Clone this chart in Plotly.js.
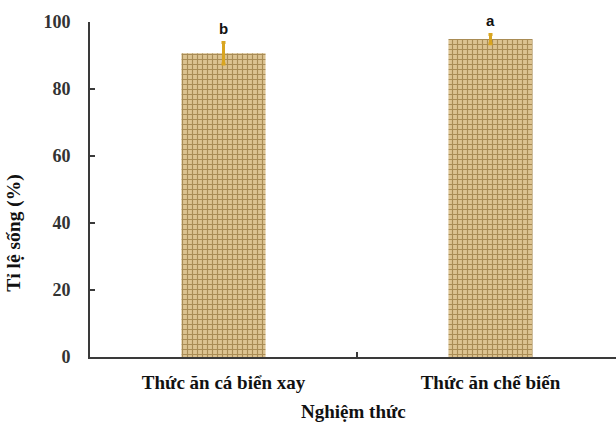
<!DOCTYPE html>
<html>
<head>
<meta charset="utf-8">
<script src="https://cdn.plot.ly/plotly-3.0.1.min.js"></script>
<style>html,body{margin:0;padding:0;background:#fff;}#chart{width:616px;height:424px;}</style>
</head>
<body>
<div id="chart"></div>
<script>
var categories = ["Thức ăn cá biển xay", "Thức ăn chế biến"];
var survival = [90.7, 94.9];
var errors = [3.2, 1.4];
var letters = ["b", "a"];
var yTicks = [0, 20, 40, 60, 80, 100];
var yTitle = "Tỉ lệ sống (%)";
var xTitle = "Nghiệm thức";

var trace = {
  type: "bar",
  x: categories,
  y: survival,
  width: 0.315,
  marker: {
    color: "#d3b87f",
    line: {width: 0},
    pattern: {shape: "+", fgcolor: "#a98c55", bgcolor: "#dcc391", size: 5, solidity: 0.4}
  },
  error_y: {type: "data", array: errors, visible: true, color: "#d9a520", thickness: 3, width: 2},
  hoverinfo: "none"
};

var serif = "Liberation Serif, Times New Roman, serif";

var annotations = categories.map(function (c, i) {
  return {
    x: c, y: survival[i] + errors[i], xref: "x", yref: "y",
    text: letters[i], showarrow: false, yanchor: "bottom", yshift: 3,
    font: {family: "Liberation Sans, Arial, sans-serif", size: 15, color: "#111", weight: "bold"}
  };
});
annotations.push({
  text: yTitle, xref: "paper", yref: "paper", x: -0.145, y: 0.37,
  xanchor: "center", yanchor: "middle", textangle: -90, showarrow: false,
  font: {family: serif, size: 19.5, color: "#111", weight: "bold"}
});
annotations.push({
  text: xTitle, xref: "paper", yref: "paper", x: 0.5, y: -0.162,
  xanchor: "center", yanchor: "middle", showarrow: false,
  font: {family: serif, size: 19, color: "#111", weight: "bold"}
});

var layout = {
  width: 616, height: 424,
  margin: {l: 90, r: 0, t: 22, b: 67},
  paper_bgcolor: "#fff", plot_bgcolor: "#fff",
  showlegend: false,
  xaxis: {
    type: "category",
    range: [-0.5, 1.47],
    showline: true, linecolor: "#3a3a3a", linewidth: 2,
    ticks: "inside", tickson: "boundaries", ticklen: 5, tickcolor: "#3a3a3a", tickwidth: 1.5,
    showgrid: false, zeroline: false,
    tickfont: {family: serif, size: 19, color: "#111", weight: "bold"},
    ticklabelstandoff: 7
  },
  yaxis: {
    range: [0, 100],
    tickvals: yTicks,
    showline: true, linecolor: "#3a3a3a", linewidth: 2,
    ticks: "inside", ticklen: 5, tickcolor: "#3a3a3a", tickwidth: 1.5,
    showgrid: false, zeroline: false,
    tickfont: {family: serif, size: 18, color: "#333", weight: "bold"},
    ticklabelstandoff: 14
  },
  annotations: annotations
};

Plotly.newPlot("chart", [trace], layout, {displayModeBar: false, staticPlot: true});
</script>
</body>
</html>
